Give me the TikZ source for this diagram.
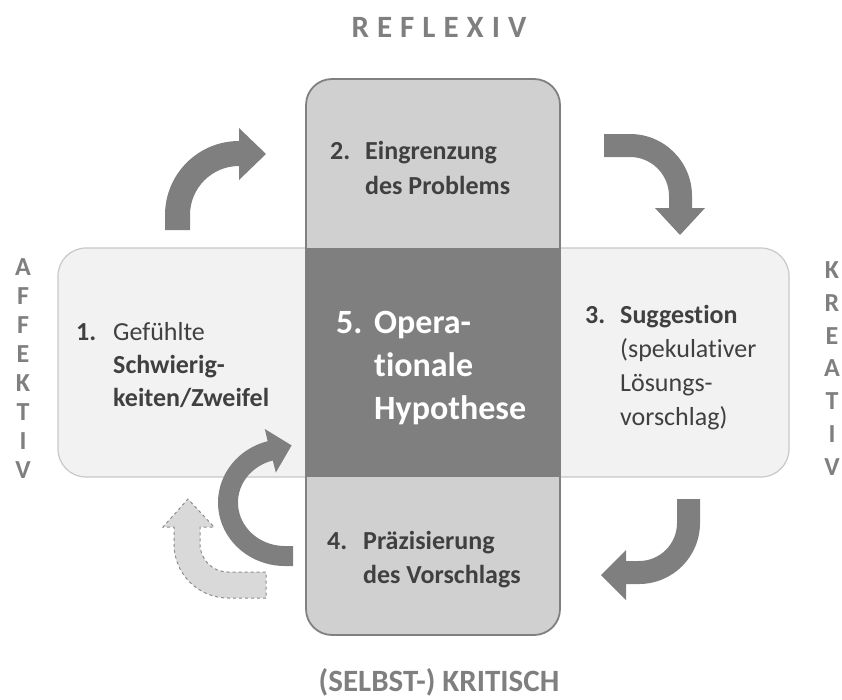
\documentclass[tikz,border=0pt]{standalone}
\usepackage{fontspec}
\setmainfont{Carlito}[Ligatures={NoCommon}]
\usetikzlibrary{positioning}
\definecolor{BoxGray}{HTML}{D0D0D0}
\definecolor{BoxLine}{HTML}{808080}
\definecolor{BandGray}{HTML}{F2F2F2}
\definecolor{BandLine}{HTML}{C8C8C8}
\definecolor{CoreGray}{HTML}{7F7F7F}
\definecolor{TextDark}{HTML}{404040}
\definecolor{GhostFill}{HTML}{D9D9D9}
\definecolor{GhostLine}{HTML}{8C8C8C}

\begin{document}
\begin{tikzpicture}[x=1pt, y=-1pt,
  body/.style={font=\fontsize{26}{34}\selectfont, text=TextDark, inner sep=0pt,
    anchor=base west, align=left},
  side/.style={font=\bfseries\fontsize{26}{29}\selectfont, text=CoreGray,
    inner sep=0pt, anchor=base, align=center},
  axis/.style={font=\bfseries\fontsize{31}{36}\selectfont, text=CoreGray,
    inner sep=0pt, anchor=base},
  bigarrow/.style={fill=CoreGray},
  ghostarrow/.style={fill=GhostFill, draw=GhostLine, dashed, line width=1pt}]
  \useasboundingbox (0,0) rectangle (842,699);

  % band and column
  \draw[fill=BandGray, draw=BandLine, line width=1.2pt, rounded corners=28pt]
    (58,248) rectangle (789,477);
  \draw[fill=BoxGray, draw=BoxLine, line width=1.8pt, rounded corners=26pt]
    (306,79) rectangle (560,635);
  \fill[CoreGray] (306,248) rectangle (560,477);

  % arrows
  \fill[bigarrow] (165,230) -- (165,215) arc[start angle=180, end angle=270, radius=74]
    -- (239,128) -- (266,154) -- (239,180) -- (239,166)
    arc[start angle=270, end angle=180, radius=49] -- (190,230) -- cycle;
  \fill[bigarrow] (604,134) -- (630,134) arc[start angle=270, end angle=360, radius=62]
    -- (692,208) -- (705,208) -- (680,235) -- (655,208) -- (669,208) -- (669,196)
    arc[start angle=0, end angle=-90, radius=39] -- (604,157) -- cycle;
  \fill[bigarrow] (700,499) -- (700,523) arc[start angle=0, end angle=90, radius=61]
    -- (626,584) -- (626,600) -- (601,575) -- (626,550) -- (626,561) -- (639,561)
    arc[start angle=90, end angle=0, radius=38] -- (677,499) -- cycle;
  \fill[bigarrow] (293,566) -- (285,566)
    arc[start angle=90, end angle=255, x radius=67, y radius=63.5]
    -- (264.8,429) -- (291.6,445.4) -- (275.8,472.6) -- (272.8,460.5)
    arc[start angle=255, end angle=90, x radius=47, y radius=43.5] -- (293,546) -- cycle;
  \draw[ghostarrow] (266,598) -- (228,598) arc[start angle=90, end angle=180, radius=54]
    -- (174,527) -- (163,527) -- (188,499) -- (214,527) -- (200,527) -- (200,544)
    arc[start angle=180, end angle=90, radius=28] -- (266,572) -- cycle;

  % texts (base = last line)
  \node[body, font=\bfseries\fontsize{26}{34}\selectfont] (num1) at (76,340) {1.};
  \node[body, font=\fontsize{26}{33}\selectfont] (step1) at (113,406)
    {Gefühlte\\\textbf{Schwierig-}\\\textbf{keiten/Zweifel}};
  \node[body, font=\bfseries\fontsize{26}{35}\selectfont] (num2) at (330,159) {2.};
  \node[body, font=\bfseries\fontsize{26}{35}\selectfont] (step2) at (365,194)
    {Eingrenzung\\des Problems};
  \node[body, font=\bfseries\fontsize{26}{34}\selectfont] (num3) at (585,323) {3.};
  \node[body] (step3) at (620,425)
    {\textbf{Suggestion}\\(spekulativer\\Lösungs-\\vorschlag)};
  \node[body, font=\bfseries\fontsize{26}{34}\selectfont] (num4) at (327,549) {4.};
  \node[body, font=\bfseries\fontsize{26}{34}\selectfont] (step4) at (363,583)
    {Präzisierung\\des Vorschlags};
  \node[body, font=\bfseries\fontsize{34}{43}\selectfont, text=white] (num5) at (336,333) {5.};
  \node[body, font=\bfseries\fontsize{34}{43}\selectfont, text=white] (step5) at (374,419)
    {Opera-\\tionale\\Hypothese};

  % axis labels
  \node[axis] (reflexiv) at (439,37)
    {R\kern8pt E\kern8pt F\kern8pt L\kern8pt E\kern8pt X\kern8pt I\kern8pt V};
  \node[axis] (kritisch) at (439,691) {(SELBST-) KRITISCH};
  \node[side] (affektiv) at (23,478) {A\\F\\F\\E\\K\\T\\I\\V};
  \node[side, font=\bfseries\fontsize{26}{32.7}\selectfont] (kreativ) at (832,475)
    {K\\R\\E\\A\\T\\I\\V};
\end{tikzpicture}
\end{document}
